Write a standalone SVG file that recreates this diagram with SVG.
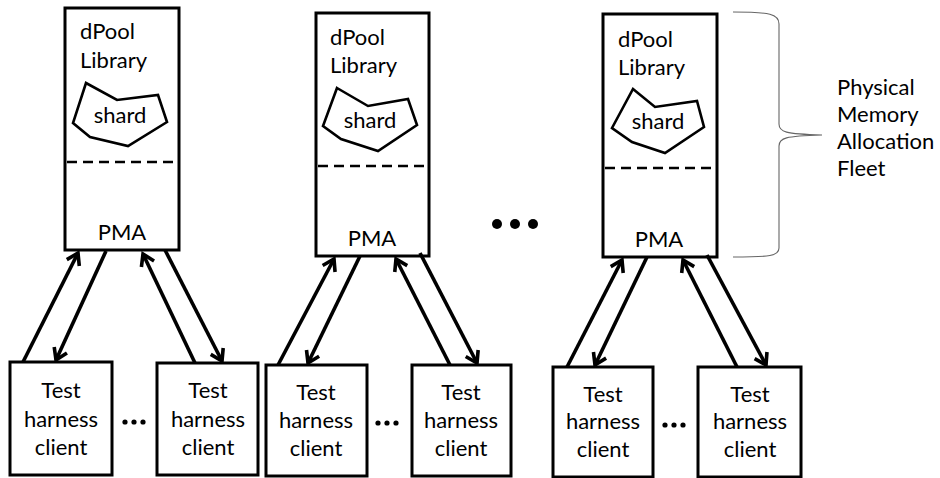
<svg xmlns="http://www.w3.org/2000/svg" width="940" height="478" viewBox="0 0 940 478">
  <style>
    .box { fill: #fff; stroke: #000; stroke-width: 3; }
    .shard { fill: #fff; stroke: #000; stroke-width: 2.6; stroke-linejoin: miter; }
    .sep { stroke: #000; stroke-width: 2.6; stroke-dasharray: 10 6; }
    .t { font-family: Lato, "Open Sans", "Liberation Sans", sans-serif; font-size: 22px; fill: #000; }
    .c { text-anchor: middle; }
    .arr { stroke: #000; stroke-width: 3.6; fill: none; marker-end: url(#head); }
    .brace { fill: none; stroke: #666; stroke-width: 1.1; }
  </style>
  <defs>
    <marker id="head" markerUnits="userSpaceOnUse" markerWidth="30" markerHeight="30" refX="0" refY="0" viewBox="-15 -15 30 30" orient="auto" overflow="visible">
      <path d="M -11 -7 L 0 0 L -11 7" fill="none" stroke="#000" stroke-width="3.6" stroke-linejoin="miter"/>
    </marker>
  </defs>

  <!-- PMA hosts -->
  <g id="pma1">
    <rect class="box" x="65" y="8" width="114" height="242"/>
    <text class="t" x="80" y="39">dPool</text>
    <text class="t" x="80" y="68">Library</text>
    <polygon class="shard" points="86,83 117,100 158,95 167,122 128,146 90,137 73,123"/>
    <text class="t c" x="120" y="123">shard</text>
    <line class="sep" x1="67" y1="162" x2="176" y2="162"/>
    <text class="t c" x="122" y="240">PMA</text>
  </g>
  <g id="pma2">
    <rect class="box" x="316" y="13" width="113" height="243"/>
    <text class="t" x="330" y="45">dPool</text>
    <text class="t" x="330" y="73">Library</text>
    <polygon class="shard" points="337,88 368,106 408,99 417,125 378,151 341,139 323,126"/>
    <text class="t c" x="370" y="128">shard</text>
    <line class="sep" x1="318" y1="166" x2="427" y2="166"/>
    <text class="t c" x="372" y="246">PMA</text>
  </g>
  <g id="pma3">
    <rect class="box" x="603" y="14" width="114" height="243"/>
    <text class="t" x="618" y="47">dPool</text>
    <text class="t" x="618" y="75">Library</text>
    <polygon class="shard" points="633,89 655,107 697,101 704,127 665,153 632,142 612,128"/>
    <text class="t c" x="658" y="129">shard</text>
    <line class="sep" x1="605" y1="168" x2="714" y2="168"/>
    <text class="t c" x="659" y="247">PMA</text>
  </g>

  <!-- more hosts -->
  <g id="more-hosts">
    <circle cx="497" cy="224" r="5"/>
    <circle cx="515" cy="224" r="5"/>
    <circle cx="533" cy="224" r="5"/>
  </g>

  <!-- fleet brace and label -->
  <g id="fleet">
    <path class="brace" d="M 733 12 C 770 12 779 14 779 24 L 779 124 C 779 132 785 134 822 135 C 785 136 779 138 779 146 L 779 248 C 779 256 770 257 733 257"/>
    <text class="t" x="837" y="95">Physical</text>
    <text class="t" x="837" y="122">Memory</text>
    <text class="t" x="837" y="149">Allocation</text>
    <text class="t" x="837" y="176">Fleet</text>
  </g>

  <!-- test harness clients -->
  <g id="client1">
    <rect class="box" x="10" y="362" width="102" height="113"/>
    <text class="t c" x="61" y="398">Test</text>
    <text class="t c" x="61" y="427">harness</text>
    <text class="t c" x="61" y="455">client</text>
  </g>
  <g id="client2">
    <rect class="box" x="157" y="363" width="101" height="112"/>
    <text class="t c" x="208" y="398">Test</text>
    <text class="t c" x="208" y="427">harness</text>
    <text class="t c" x="208" y="455">client</text>
  </g>
  <g id="client3">
    <rect class="box" x="266" y="365" width="101" height="111"/>
    <text class="t c" x="316" y="400">Test</text>
    <text class="t c" x="316" y="428">harness</text>
    <text class="t c" x="316" y="456">client</text>
  </g>
  <g id="client4">
    <rect class="box" x="412" y="365" width="99" height="111"/>
    <text class="t c" x="461" y="400">Test</text>
    <text class="t c" x="461" y="428">harness</text>
    <text class="t c" x="461" y="456">client</text>
  </g>
  <g id="client5">
    <rect class="box" x="553" y="367" width="100" height="110"/>
    <text class="t c" x="603" y="402">Test</text>
    <text class="t c" x="603" y="429">harness</text>
    <text class="t c" x="603" y="457">client</text>
  </g>
  <g id="client6">
    <rect class="box" x="698" y="367" width="103" height="110"/>
    <text class="t c" x="750" y="402">Test</text>
    <text class="t c" x="750" y="429">harness</text>
    <text class="t c" x="750" y="457">client</text>
  </g>

  <!-- more clients -->
  <g id="more-clients">
    <circle cx="125" cy="422" r="2.6"/>
    <circle cx="134" cy="422" r="2.6"/>
    <circle cx="143" cy="422" r="2.6"/>
    <circle cx="378" cy="423" r="2.6"/>
    <circle cx="387" cy="423" r="2.6"/>
    <circle cx="396" cy="423" r="2.6"/>
    <circle cx="665" cy="425" r="2.6"/>
    <circle cx="674" cy="425" r="2.6"/>
    <circle cx="683" cy="425" r="2.6"/>
  </g>

  <!-- request / response connectors -->
  <g id="connectors">
    <line class="arr" x1="23" y1="362" x2="78" y2="253"/>
    <line class="arr" x1="106" y1="251" x2="56" y2="360"/>
    <line class="arr" x1="195" y1="363" x2="143" y2="254"/>
    <line class="arr" x1="165" y1="250" x2="222" y2="361"/>

    <line class="arr" x1="278" y1="365" x2="334" y2="259"/>
    <line class="arr" x1="360" y1="256" x2="308" y2="363"/>
    <line class="arr" x1="450" y1="365" x2="396" y2="259"/>
    <line class="arr" x1="420" y1="253" x2="477" y2="363"/>

    <line class="arr" x1="567" y1="367" x2="622" y2="260"/>
    <line class="arr" x1="647" y1="257" x2="595" y2="365"/>
    <line class="arr" x1="737" y1="367" x2="683" y2="260"/>
    <line class="arr" x1="707" y1="255" x2="766" y2="365"/>
  </g>
</svg>
